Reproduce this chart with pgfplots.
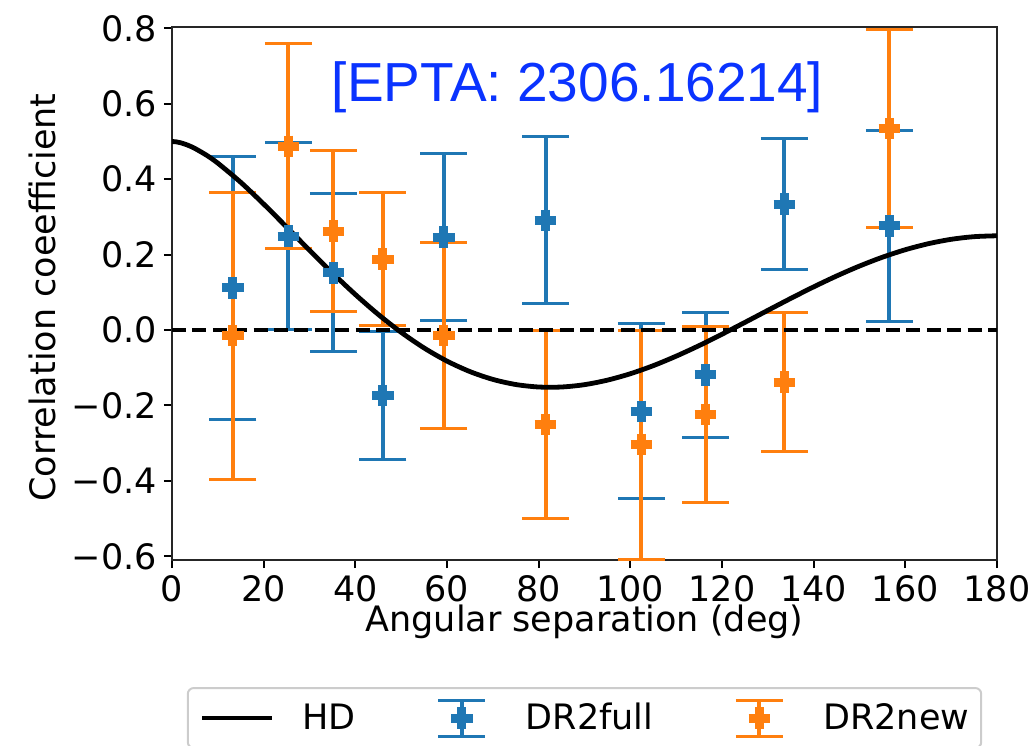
\documentclass[border=0pt]{standalone}
\usepackage{fontspec}
\setmainfont{DejaVu Sans}
\newfontfamily\arialfont{Liberation Sans}
\usepackage{pgfplots}
\usepackage{pgfplotstable}
\pgfplotsset{compat=1.18}
\usetikzlibrary{calc}
\definecolor{c0}{HTML}{1F77B4}
\definecolor{c1}{HTML}{FF7F0E}
\definecolor{eptablue}{HTML}{0A33FF}

% angle, value, symmetric error
\pgfplotstableread{
x y e
13.3 0.112 0.349
25.4 0.249 0.248
35.2 0.152 0.210
46.0 -0.174 0.170
59.3 0.246 0.221
81.5 0.291 0.221
102.4 -0.216 0.232
116.4 -0.119 0.166
133.6 0.334 0.173
156.5 0.276 0.254
}\fulldata
\pgfplotstableread{
x y e
13.3 -0.015 0.381
25.4 0.487 0.272
35.2 0.262 0.214
46.0 0.188 0.177
59.3 -0.015 0.246
81.5 -0.251 0.250
102.4 -0.304 0.304
116.4 -0.224 0.233
133.6 -0.138 0.184
156.5 0.534 0.263
}\newdata

\begin{document}
\begin{tikzpicture}
\begin{axis}[
    name=ax,
    scale only axis,
    width=412.5pt, height=266.75pt,
    xmin=0, xmax=180, ymin=-0.61, ymax=0.805,
    xtick={0,20,40,60,80,100,120,140,160,180},
    xticklabels={0,20,40,60,80,100,120,140,160,180},
    ytick={-0.6,-0.4,-0.2,0,0.2,0.4,0.6,0.8},
    yticklabels={−0.6,−0.4,−0.2,0.0,0.2,0.4,0.6,0.8},
    tick align=outside, tick pos=left,
    major tick length=4pt,
    every tick/.style={black, line width=1pt},
    axis line style={line width=1pt, black!85},
    ticklabel style={font=\fontsize{17.5}{21}\selectfont},
    label style={font=\fontsize{17.5}{21}\selectfont},
    xlabel={Angular separation (deg)},
    ylabel={Correlation coeefficient},
    xlabel style={at={(axis description cs:0.5,0)}, anchor=base, inner ysep=0pt, yshift=-35.5pt},
    ylabel style={at={(axis description cs:-0.1576,0.492)}, rotate=0, anchor=center},
    legend columns=3,
    legend cell align=left,
    legend style={at={(0.5,-0.238)}, anchor=north, draw=black!20, line width=1pt,
        rounded corners=3pt, inner xsep=6pt, inner ysep=5pt,
        font=\fontsize{17.5}{21}\selectfont,
        nodes={inner sep=0pt},
        /tikz/every odd column/.append style={column sep=14pt},
        /tikz/every even column/.append style={column sep=35pt}},
]
% error bars first (below everything else)
\addplot[forget plot, draw=none, mark=none,
    error bars/.cd, y dir=both, y explicit,
    error bar style={draw=c0, line width=2pt},
    error mark options={draw=c0, line width=1.5pt, rotate=90, mark size=11.75pt}]
    table[x=x, y=y, y error=e] {\fulldata};
\addplot[forget plot, draw=none, mark=none,
    error bars/.cd, y dir=both, y explicit,
    error bar style={draw=c1, line width=2pt},
    error mark options={draw=c1, line width=1.5pt, rotate=90, mark size=11.75pt}]
    table[x=x, y=y, y error=e] {\newdata};

% Hellings-Downs curve, tabulated values
\addplot[black, line width=2.4pt, smooth,
    legend image code/.code={\draw[black, line width=2.4pt] (0pt,0pt) -- (35pt,0pt);}]
    coordinates {
    (0,0.5) (1,0.4989) (2,0.4962) (3,0.4923) (4,0.4874) (5,0.4816) (7.5,0.4639)
    (10,0.4425) (15,0.3917) (20,0.3341) (25,0.2732)
    (30,0.2116) (35,0.1514) (40,0.0942) (45,0.0414) (50,-0.0061) (55,-0.0476)
    (60,-0.0824) (65,-0.1102) (70,-0.1309) (75,-0.1445) (80,-0.1511) (85,-0.1511)
    (90,-0.1449) (95,-0.1329) (100,-0.1159) (105,-0.0945) (110,-0.0693) (115,-0.0413)
    (120,-0.0111) (125,0.0203) (130,0.0522) (135,0.0839) (140,0.1145) (145,0.1433)
    (150,0.1697) (155,0.1931) (160,0.2130) (165,0.2289) (170,0.2406) (175,0.2476)
    (180,0.25)};
\addlegendentry{HD}

\addplot[forget plot, black, line width=2pt, dash pattern=on 7pt off 3.2pt]
    coordinates {(0,0) (180,0)};

\addplot[only marks, mark=+, color=c0, mark size=5.4pt,
    mark options={line width=4.5pt, solid},
    legend image code/.code={
      \path (0pt,0pt) (35pt,0pt);
      \draw[c0, line width=2pt] (17.5pt,-9pt) -- (17.5pt,9pt);
      \draw[c0, line width=1.5pt] (5.75pt,-9pt) -- (29.25pt,-9pt) (5.75pt,9pt) -- (29.25pt,9pt);
      \draw[c0, line width=4.5pt] (12.1pt,0pt) -- (22.9pt,0pt) (17.5pt,-5.4pt) -- (17.5pt,5.4pt);
    }]
    table[x=x, y=y] {\fulldata};
\addlegendentry{DR2full}
\addplot[only marks, mark=+, color=c1, mark size=5.4pt,
    mark options={line width=4.5pt, solid},
    legend image code/.code={
      \path (0pt,0pt) (35pt,0pt);
      \draw[c1, line width=2pt] (17.5pt,-9pt) -- (17.5pt,9pt);
      \draw[c1, line width=1.5pt] (5.75pt,-9pt) -- (29.25pt,-9pt) (5.75pt,9pt) -- (29.25pt,9pt);
      \draw[c1, line width=4.5pt] (12.1pt,0pt) -- (22.9pt,0pt) (17.5pt,-5.4pt) -- (17.5pt,5.4pt);
    }]
    table[x=x, y=y] {\newdata};
\addlegendentry{DR2new}

\node[font=\arialfont\fontsize{27.5}{31}\selectfont, text=eptablue, anchor=base]
    at (axis cs:88.5,0.605) {[EPTA: 2306.16214]};
\end{axis}
\pgfresetboundingbox
\path[use as bounding box] ($(ax.south west)+(-86pt,-92.5pt)$) rectangle ($(ax.north east)+(19.5pt,13.25pt)$);
\end{tikzpicture}
\end{document}
